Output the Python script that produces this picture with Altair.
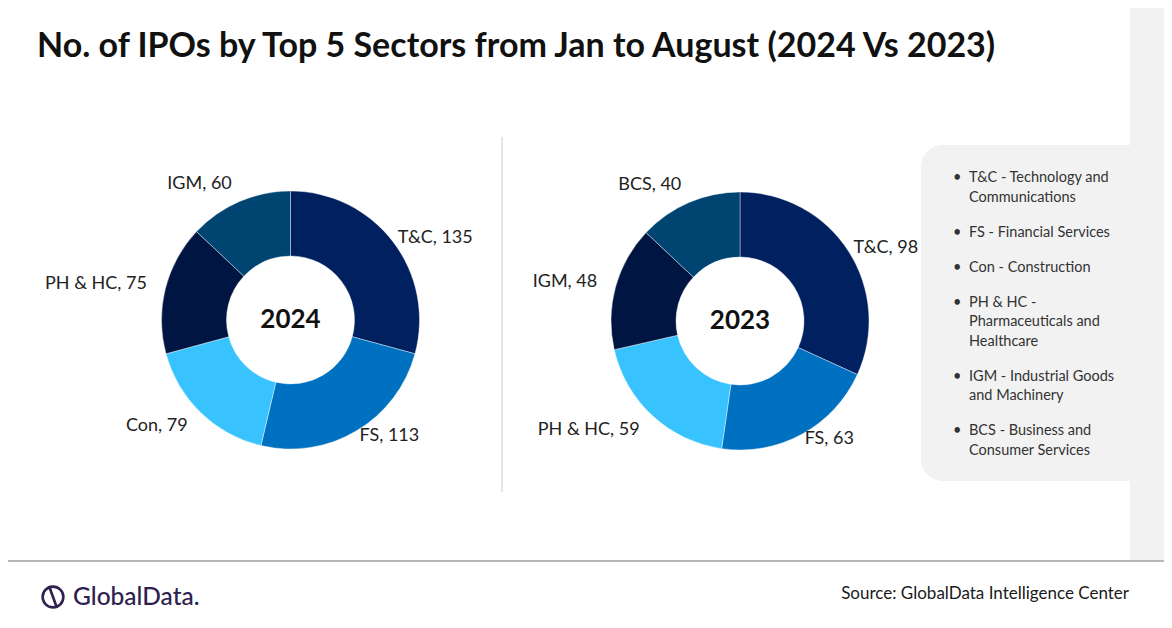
import altair as alt
import pandas as pd

# ---- data ----
sectors_2024 = ["T&C", "FS", "Con", "PH & HC", "IGM"]
ipos_2024 = [135, 113, 79, 75, 60]
sectors_2023 = ["T&C", "FS", "PH & HC", "IGM", "BCS"]
ipos_2023 = [98, 63, 59, 48, 40]

legend_items = [
    ["T&C - Technology and", "Communications"],
    ["FS - Financial Services"],
    ["Con - Construction"],
    ["PH & HC -", "Pharmaceuticals and", "Healthcare"],
    ["IGM - Industrial Goods", "and Machinery"],
    ["BCS - Business and", "Consumer Services"],
]

title_text = "No. of IPOs by Top 5 Sectors from Jan to August (2024 Vs 2023)"
source_text = "Source: GlobalData Intelligence Center"
brand_text = "GlobalData."

slice_colors = ["#002060", "#0070C0", "#38C3FF", "#001541", "#004571"]

FONT = "Lato"
W, H = 1156, 610


def frame(sectors, values):
    return pd.DataFrame({"sector": sectors, "n": values, "rank": list(range(1, len(values) + 1))})


dummy = pd.DataFrame({"a": [0]})


def donut(df, cx, cy, year):
    base = alt.Chart(df).transform_window(
        cum="sum(n)", sort=[{"field": "rank"}]
    ).transform_joinaggregate(total="sum(n)").transform_calculate(
        mid="(datum.cum - datum.n / 2) / datum.total",
        label="datum.sector + ', ' + datum.n",
    )
    enc = dict(
        theta=alt.Theta("n:Q", stack=True),
        order=alt.Order("rank:Q"),
        x=alt.value(cx),
        y=alt.value(cy),
    )
    arcs = base.mark_arc(innerRadius=64, outerRadius=129, stroke="#ffffff", strokeWidth=0.4).encode(
        color=alt.Color("rank:O", scale=alt.Scale(domain=[1, 2, 3, 4, 5], range=slice_colors), legend=None),
        **enc,
    )
    right = base.mark_text(radius=135, align="left", baseline="middle", font=FONT, fontSize=18, color="#222222").encode(
        text=alt.condition("datum.mid < 0.5", alt.Text("label:N"), alt.value("")),
        **enc,
    )
    left = base.mark_text(radius=148, align="right", baseline="middle", font=FONT, fontSize=18, color="#222222").encode(
        text=alt.condition("datum.mid >= 0.5", alt.Text("label:N"), alt.value("")),
        **enc,
    )
    center = alt.Chart(dummy).mark_text(font=FONT, fontSize=26, fontWeight="bold", color="#111111",
                                        align="center", baseline="middle").encode(
        x=alt.value(cx), y=alt.value(cy), text=alt.value(year))
    return [arcs, right, left, center]


layers = []

# background panels
layers.append(alt.Chart(dummy).mark_rect(color="#f2f2f2").encode(
    x=alt.value(1122), x2=alt.value(W), y=alt.value(0), y2=alt.value(552)))
layers.append(alt.Chart(dummy).mark_rect(color="#f2f2f2", cornerRadius=22).encode(
    x=alt.value(913), x2=alt.value(1150), y=alt.value(137), y2=alt.value(473)))

# title
layers.append(alt.Chart(dummy).mark_text(font=FONT, fontSize=34, fontWeight="bold", color="#111111",
                                         align="left", baseline="alphabetic").encode(
    x=alt.value(29), y=alt.value(49), text=alt.value(title_text)))

# separator lines
layers.append(alt.Chart(dummy).mark_rule(color="#cccccc", strokeWidth=1).encode(
    x=alt.value(494), y=alt.value(129), y2=alt.value(484)))
layers.append(alt.Chart(dummy).mark_rule(color="#9e9e9e", strokeWidth=1.5).encode(
    x=alt.value(0), x2=alt.value(W), y=alt.value(553)))

# donuts
layers += donut(frame(sectors_2024, ipos_2024), 282.5, 312, "2024")
layers += donut(frame(sectors_2023, ipos_2023), 732, 313, "2023")

# legend text
y = 170
for item in legend_items:
    layers.append(alt.Chart(dummy).mark_text(font=FONT, fontSize=14.5, color="#333333", align="left",
                                             baseline="middle").encode(
        x=alt.value(945), y=alt.value(y), text=alt.value("•")))
    layers.append(alt.Chart(dummy).mark_text(font=FONT, fontSize=14.5, color="#333333", align="left",
                                             baseline="middle", lineHeight=19.5).encode(
        x=alt.value(961), y=alt.value(y), text=alt.value(item)))
    y += len(item) * 19.5 + 15.5

# logo
layers.append(alt.Chart(dummy).mark_point(shape="circle", size=430, filled=False, color="#2e2150",
                                          strokeWidth=2.6, opacity=1).encode(
    x=alt.value(45), y=alt.value(589)))
layers.append(alt.Chart(dummy).mark_rule(color="#2e2150", strokeWidth=2.6).encode(
    x=alt.value(41), x2=alt.value(49), y=alt.value(578), y2=alt.value(600)))
layers.append(alt.Chart(dummy).mark_text(font=FONT, fontSize=24.5, fontWeight=500, color="#2e2150",
                                         align="left", baseline="alphabetic").encode(
    x=alt.value(65), y=alt.value(597), text=alt.value(brand_text)))

# source
layers.append(alt.Chart(dummy).mark_text(font=FONT, fontSize=17, color="#1a1a1a",
                                         align="right", baseline="alphabetic").encode(
    x=alt.value(1121), y=alt.value(591), text=alt.value(source_text)))

chart = alt.layer(*layers).resolve_scale(theta="independent", color="independent").properties(
    width=W, height=H, autosize=alt.AutoSizeParams(type="none"), padding=0, background="#ffffff"
).configure_view(stroke=None)

chart.save("out.html", embed_options={"renderer": "svg", "actions": False})
